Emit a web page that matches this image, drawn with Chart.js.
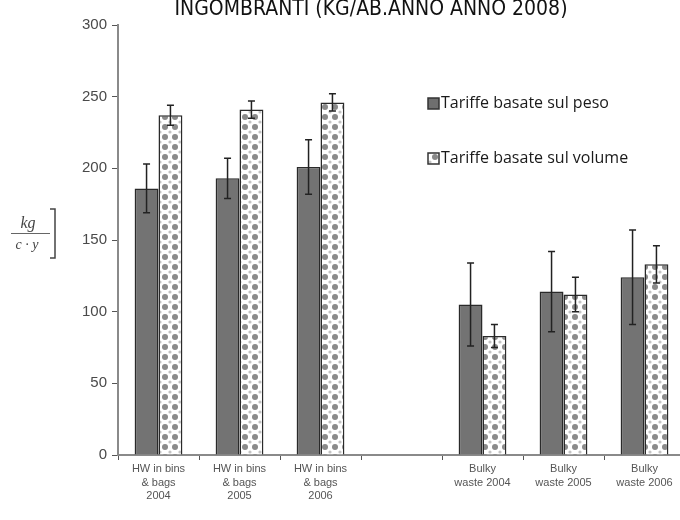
<!DOCTYPE html>
<html>
<head>
<meta charset="utf-8">
<script src="https://cdn.jsdelivr.net/npm/chart.js@4.4.1/dist/chart.umd.min.js"></script>
<style>
  html, body { margin: 0; padding: 0; background: #fff; overflow: hidden; }
  #wrap { width: 700px; height: 520px; }
</style>
</head>
<body>
<div id="wrap"><canvas id="chart" width="700" height="520"></canvas></div>
<script>
// data
const categories = [
  ['HW in bins', '& bags', '2004'],
  ['HW in bins', '& bags', '2005'],
  ['HW in bins', '& bags', '2006'],
  '',
  ['Bulky', 'waste 2004'],
  ['Bulky', 'waste 2005'],
  ['Bulky', 'waste 2006']
];
const seriesNames = ['Tariffe basate sul peso', 'Tariffe basate sul volume'];
const weightValues = [186, 193, 201, null, 105, 114, 124];
const weightErrors = [17, 14, 19, null, 29, 28, 33];
const volumeValues = [237, 241, 246, null, 83, 112, 133];
const volumeErrors = [7, 6, 6, null, 8, 12, 13];
const yTicks = [0, 50, 100, 150, 200, 250, 300];
const titleText = 'INGOMBRANTI (KG/AB.ANNO ANNO 2008)';

// dotted fill for the volume bars
function makeDots() {
  const c = document.createElement('canvas');
  c.width = 10;
  c.height = 10;
  const g = c.getContext('2d');
  g.fillStyle = '#fff';
  g.fillRect(0, 0, 10, 10);
  g.fillStyle = '#c4c4c4';
  [[0, 2], [10, 2], [0, 12], [10, 12], [0, -8], [10, -8]].forEach(p => {
    g.beginPath();
    g.arc(p[0], p[1], 1.6, 0, Math.PI * 2);
    g.fill();
  });
  g.fillStyle = '#8a8a8a';
  g.beginPath();
  g.arc(5, 7, 3, 0, Math.PI * 2);
  g.fill();
  return document.getElementById('chart').getContext('2d').createPattern(c, 'repeat');
}
const dots = makeDots();

const errorBars = {
  id: 'errorBars',
  afterDatasetsDraw(chart) {
    const ctx = chart.ctx;
    const y = chart.scales.y;
    const errs = [weightErrors, volumeErrors];
    ctx.save();
    ctx.strokeStyle = '#222';
    ctx.lineWidth = 1.5;
    chart.data.datasets.forEach((ds, i) => {
      chart.getDatasetMeta(i).data.forEach((bar, j) => {
        const v = ds.data[j];
        const e = errs[i][j];
        if (v == null || e == null) return;
        const top = y.getPixelForValue(v + e);
        const bot = y.getPixelForValue(v - e);
        ctx.beginPath();
        ctx.moveTo(bar.x, top);
        ctx.lineTo(bar.x, bot);
        ctx.moveTo(bar.x - 3.5, top);
        ctx.lineTo(bar.x + 3.5, top);
        ctx.moveTo(bar.x - 3.5, bot);
        ctx.lineTo(bar.x + 3.5, bot);
        ctx.stroke();
      });
    });
    ctx.restore();
  }
};

const decorations = {
  id: 'decorations',
  beforeDraw(chart) {
    const ctx = chart.ctx;
    ctx.save();
    ctx.fillStyle = '#fff';
    ctx.fillRect(0, 0, chart.width, chart.height);
    ctx.restore();
  },
  afterDraw(chart) {
    const ctx = chart.ctx;
    ctx.save();

    // title, cut at the top like the source
    ctx.font = '22px "Liberation Sans Narrow", "DejaVu Sans Condensed", sans-serif';
    ctx.fillStyle = '#111';
    ctx.textBaseline = 'alphabetic';
    const tw = ctx.measureText(titleText).width;
    ctx.translate(371, 15);
    ctx.scale(393 / tw, 1);
    ctx.textAlign = 'center';
    ctx.fillText(titleText, 0, 0);
    ctx.setTransform(1, 0, 0, 1, 0, 0);

    // unit label kg / (c . y)
    ctx.fillStyle = '#444';
    ctx.strokeStyle = '#666';
    ctx.font = 'italic 16px "Liberation Serif", serif';
    ctx.textAlign = 'center';
    ctx.textBaseline = 'alphabetic';
    ctx.fillText('kg', 28, 228);
    ctx.lineWidth = 1.2;
    ctx.beginPath();
    ctx.moveTo(11, 233.5);
    ctx.lineTo(50, 233.5);
    ctx.stroke();
    ctx.font = 'italic 14px "Liberation Serif", serif';
    ctx.fillText('c · y', 27, 249);
    ctx.strokeStyle = '#444';
    ctx.lineWidth = 1.5;
    ctx.beginPath();
    ctx.moveTo(50, 209);
    ctx.lineTo(55, 209);
    ctx.lineTo(55, 258);
    ctx.lineTo(50, 258);
    ctx.stroke();

    // legend
    ctx.font = '16px "Open Sans", sans-serif';
    ctx.textAlign = 'left';
    ctx.textBaseline = 'middle';
    const rows = [103, 158];
    const fills = ['#6f6f6f', dots];
    seriesNames.forEach((name, i) => {
      ctx.fillStyle = fills[i];
      ctx.fillRect(428, rows[i] - 5, 11, 11);
      ctx.strokeStyle = '#333';
      ctx.lineWidth = 1.5;
      ctx.strokeRect(428, rows[i] - 5, 11, 11);
      ctx.fillStyle = '#1a1a1a';
      ctx.fillText(name, 441, rows[i]);
    });
    ctx.restore();
  }
};

new Chart(document.getElementById('chart'), {
  type: 'bar',
  data: {
    labels: categories,
    datasets: [
      {
        label: seriesNames[0],
        data: weightValues,
        backgroundColor: '#737373',
        borderColor: '#2a2a2a',
        borderWidth: 1.5
      },
      {
        label: seriesNames[1],
        data: volumeValues,
        backgroundColor: dots,
        borderColor: '#2a2a2a',
        borderWidth: 1.5
      }
    ]
  },
  options: {
    responsive: false,
    animation: false,
    layout: { padding: { top: 25, right: 15, bottom: 0, left: 0 } },
    plugins: {
      legend: { display: false },
      tooltip: { enabled: false }
    },
    datasets: {
      bar: { categoryPercentage: 0.59, barPercentage: 1.0 }
    },
    scales: {
      x: {
        afterFit(scale) { scale.height = 65; },
        grid: { drawOnChartArea: false, tickLength: 5, color: '#555', offset: true },
        border: { color: '#8a8a8a', width: 2 },
        ticks: {
          color: '#555',
          padding: 2,
          maxRotation: 0,
          autoSkip: false,
          font: { family: '"Liberation Sans", Arial, sans-serif', size: 11, lineHeight: 1.25 }
        }
      },
      y: {
        min: 0,
        max: 300,
        afterFit(scale) { scale.width = 118; },
        afterBuildTicks(scale) { scale.ticks = yTicks.map(v => ({ value: v })); },
        grid: { drawOnChartArea: false, tickLength: 6, color: '#555' },
        border: { color: '#8a8a8a', width: 2 },
        ticks: {
          color: '#4a4a4a',
          padding: 5,
          font: { family: '"Liberation Sans", Arial, sans-serif', size: 15 }
        }
      }
    }
  },
  plugins: [decorations, errorBars]
});
</script>
</body>
</html>
